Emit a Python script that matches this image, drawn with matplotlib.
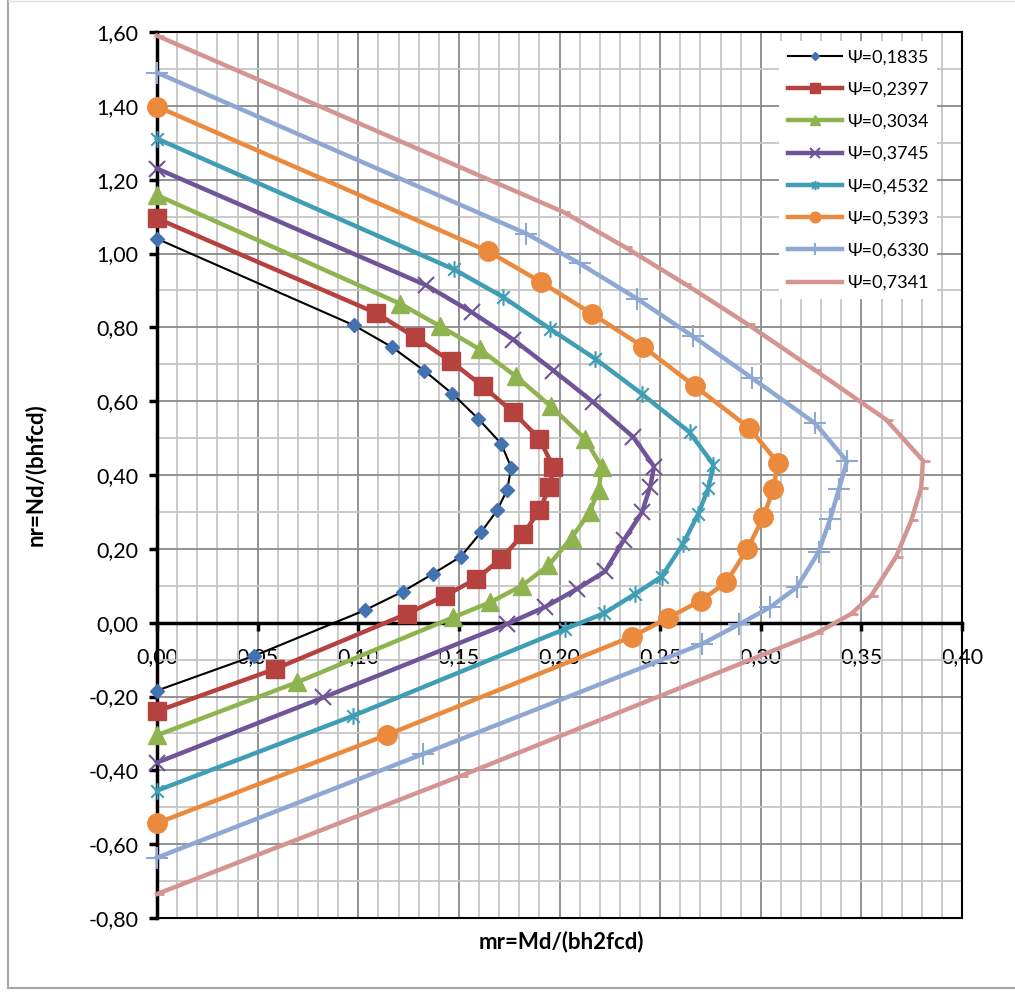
import matplotlib.pyplot as plt
import numpy as np
from matplotlib.path import Path
from matplotlib.ticker import FuncFormatter, MultipleLocator

plt.rcParams['font.family'] = ['Lato', 'DejaVu Sans']

# values (mr, nr) for each psi
labels = ['Ψ=0,1835', 'Ψ=0,2397', 'Ψ=0,3034', 'Ψ=0,3745',
          'Ψ=0,4532', 'Ψ=0,5393', 'Ψ=0,6330', 'Ψ=0,7341']

mr_1 = [0, 0.098, 0.1166, 0.1327, 0.1468, 0.1597, 0.171, 0.176, 0.174, 0.169, 0.161, 0.151, 0.137, 0.122, 0.1034, 0.0484, 0]
nr_1 = [1.04, 0.805, 0.747, 0.683, 0.620, 0.552, 0.485, 0.42, 0.36, 0.304, 0.245, 0.179, 0.132, 0.084, 0.034, -0.0895, -0.184]

mr_2 = [0, 0.1088, 0.128, 0.146, 0.162, 0.177, 0.190, 0.197, 0.195, 0.190, 0.182, 0.171, 0.1585, 0.143, 0.124, 0.0586, 0]
nr_2 = [1.095, 0.839, 0.774, 0.708, 0.640, 0.570, 0.498, 0.421, 0.367, 0.304, 0.240, 0.173, 0.118, 0.073, 0.0235, -0.1256, -0.24]

mr_3 = [0, 0.1208, 0.1407, 0.1605, 0.1784, 0.1957, 0.2127, 0.221, 0.2194, 0.215, 0.206, 0.1945, 0.1813, 0.1655, 0.147, 0.0694, 0]
nr_3 = [1.158, 0.864, 0.803, 0.740, 0.667, 0.586, 0.498, 0.421, 0.360, 0.299, 0.230, 0.155, 0.100, 0.055, 0.014, -0.162, -0.305]

mr_4 = [0, 0.1337, 0.1564, 0.177, 0.197, 0.2168, 0.2367, 0.247, 0.245, 0.241, 0.232, 0.2227, 0.2086, 0.193, 0.1738, 0.0827, 0]
nr_4 = [1.23, 0.914, 0.841, 0.767, 0.683, 0.597, 0.5025, 0.423, 0.367, 0.299, 0.224, 0.139, 0.091, 0.043, -0.004, -0.2025, -0.379]

mr_5 = [0, 0.1476, 0.172, 0.1953, 0.2177, 0.2409, 0.2646, 0.2765, 0.274, 0.269, 0.2613, 0.2508, 0.2376, 0.222, 0.2028, 0.0976, 0]
nr_5 = [1.311, 0.957, 0.882, 0.796, 0.715, 0.620, 0.516, 0.428, 0.365, 0.295, 0.213, 0.125, 0.078, 0.025, -0.017, -0.252, -0.455]

mr_6 = [0, 0.1645, 0.1907, 0.216, 0.2417, 0.2674, 0.2944, 0.3085, 0.3063, 0.3013, 0.2934, 0.2828, 0.2702, 0.2541, 0.2359, 0.1142, 0]
nr_6 = [1.398, 1.006, 0.923, 0.837, 0.747, 0.640, 0.527, 0.433, 0.363, 0.286, 0.200, 0.109, 0.060, 0.013, -0.038, -0.304, -0.543]

mr_7 = [0, 0.1835, 0.210, 0.2384, 0.2662, 0.2956, 0.327, 0.3428, 0.3389, 0.3345, 0.3287, 0.318, 0.3047, 0.2894, 0.2707, 0.1321, 0]
nr_7 = [1.49, 1.054, 0.973, 0.878, 0.776, 0.663, 0.540, 0.4375, 0.363, 0.281, 0.191, 0.096, 0.042, -0.004, -0.058, -0.356, -0.6365]

mr_8 = [0, 0.2017, 0.2323, 0.2621, 0.2936, 0.3267, 0.3623, 0.3806, 0.3797, 0.3748, 0.3673, 0.3549, 0.345, 0.3275, 0.151, 0]
nr_8 = [1.59, 1.113, 1.018, 0.9185, 0.808, 0.685, 0.550, 0.439, 0.365, 0.277, 0.179, 0.073, 0.024, -0.029, -0.415, -0.735]

mr = [mr_1, mr_2, mr_3, mr_4, mr_5, mr_6, mr_7, mr_8]
nr = [nr_1, nr_2, nr_3, nr_4, nr_5, nr_6, nr_7, nr_8]

# excel-like markers: dash sticking out right, and x with a vertical stroke
dash = Path([(-0.3, 0), (1, 0)], [Path.MOVETO, Path.LINETO])
star = Path([(-0.75, -0.75), (0.75, 0.75), (-0.75, 0.75), (0.75, -0.75), (0, -1), (0, 1)],
            [Path.MOVETO, Path.LINETO, Path.MOVETO, Path.LINETO, Path.MOVETO, Path.LINETO])

line_col = ['black', '#B5423F', '#8FB34E', '#6F5497', '#3F9DB5', '#EB8A3D', '#8EA8D3', '#D49491']
mark_col = ['#4272B0', '#B5423F', '#8FB34E', '#6F5497', '#3F9DB5', '#EB8A3D', '#8EA8D3', '#D49491']
markers = ['D', 's', '^', 'x', star, 'o', '+', dash]
msizes = [7.5, 13, 13, 12, 12, 14, 16, 10]
mews = [1, 1, 1, 1.5, 1.5, 1, 1.5, 2]
lws = [1.5, 3.2, 3.2, 3.2, 3.2, 3.2, 3.2, 3.2]

fig = plt.figure(figsize=(10.15, 9.92), dpi=100)
ax = fig.add_axes([157/1015, 1-918/992, 805/1015, 886/992])

for i in range(8):
    ax.plot(mr[i], nr[i], color=line_col[i], lw=lws[i], marker=markers[i],
            ms=msizes[i], mfc=mark_col[i], mec=mark_col[i], mew=mews[i],
            label=labels[i], clip_on=False, zorder=3+i)

ax.set_xlim(0, 0.40)
ax.set_ylim(-0.80, 1.60)
ax.xaxis.set_major_locator(MultipleLocator(0.05))
ax.xaxis.set_minor_locator(MultipleLocator(0.01))
ax.yaxis.set_major_locator(MultipleLocator(0.2))
ax.yaxis.set_minor_locator(MultipleLocator(0.1))
fmt = FuncFormatter(lambda v, p: f'{v:.2f}'.replace('.', ','))
ax.xaxis.set_major_formatter(fmt)
ax.yaxis.set_major_formatter(fmt)

ax.set_axisbelow(True)
ax.grid(which='major', color='#8a8a8a', lw=1.3)
ax.grid(which='minor', color='#c6c6c6', lw=1.3)

# axes cross at zero, frame round the plot area
ax.spines['bottom'].set_position(('data', 0))
ax.spines['bottom'].set_linewidth(2.5)
ax.spines['left'].set_linewidth(2.5)
ax.spines['top'].set_linewidth(1.5)
ax.spines['right'].set_linewidth(1.5)
ax.axhline(-0.8, color='black', lw=1.5, clip_on=False, zorder=2.5)

ax.tick_params(which='major', direction='out', length=5.5, width=2.5, labelsize=15.5)
ax.tick_params(axis='x', pad=12)
ax.tick_params(axis='y', pad=8)
ax.tick_params(which='minor', length=0)

leg = ax.legend(loc='upper right', bbox_to_anchor=(0.98, 1.0), fontsize=13,
                frameon=True, fancybox=False, framealpha=1, edgecolor='none',
                handlelength=3.0, handletextpad=0.3, labelspacing=0.9,
                borderpad=0.45, markerscale=0.55)
leg.set_zorder(20)

fig.text(35/1015, 1-475/992, 'nr=Nd/(bhfcd)', rotation=90, ha='center', va='center',
         fontsize=16, fontweight='bold')
fig.text(561/1015, 1-942/992, 'mr=Md/(bh2fcd)', ha='center', va='center',
         fontsize=16, fontweight='bold')

# outer chart border
fig.add_artist(plt.Line2D([8/1015, 8/1015], [1-988/992, 1-1/992], color='#a6a6a6', lw=1.5))
fig.add_artist(plt.Line2D([8/1015, 1], [1-988/992, 1-988/992], color='#a6a6a6', lw=1.5))
fig.add_artist(plt.Line2D([8/1015, 1], [1-1/992, 1-1/992], color='#e0e0e0', lw=1.0))

plt.savefig('out.png', dpi=100)
